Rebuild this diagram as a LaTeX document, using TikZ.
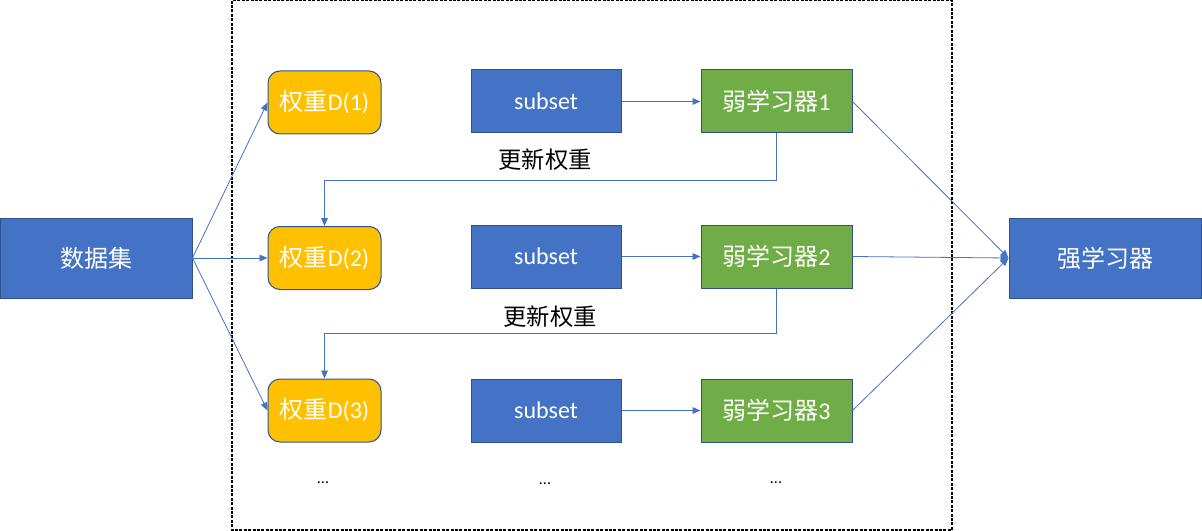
\documentclass[tikz,border=0pt]{standalone}
\usepackage{fontspec}
\setmainfont{Carlito}
\newfontfamily\cjk{Noto Sans CJK SC}
\usetikzlibrary{arrows.meta}
\definecolor{cblue}{HTML}{4472C4}
\definecolor{cedge}{HTML}{2F528F}
\definecolor{corange}{HTML}{FFC000}
\definecolor{cgreen}{HTML}{70AD47}
\tikzset{
  box/.style={draw=cedge, line width=0.75pt, text=white, inner sep=0pt, font=\fontsize{18}{21}\selectfont},
  bigbox/.style={box, fill=cblue, minimum width=144pt, minimum height=60pt},
  wbox/.style={box, fill=corange, rounded corners=9pt, minimum width=84.75pt, minimum height=47.25pt},
  sbox/.style={box, fill=cblue, minimum width=112.5pt, minimum height=47.25pt},
  lbox/.style={box, fill=cgreen, minimum width=113.25pt, minimum height=47.25pt},
  arr/.style={draw=cblue, line width=0.6pt, -{Triangle[length=6pt,width=5pt]}},
  lbl/.style={font=\fontsize{17.5}{20}\selectfont\cjk, text=black, inner sep=0pt},
  dots/.style={font=\fontsize{12}{14}\selectfont, inner sep=0pt}
}
\begin{document}
\begin{tikzpicture}[x=0.75pt,y=-0.75pt]
\useasboundingbox (0,0) rectangle (1202,531);
\draw[black, line width=0.9pt, dash pattern=on 2.2pt off 1.1pt] (232,0.6) rectangle (952,530);
\node[bigbox] (ds) at (96,258) {\cjk 数据集};
\node[bigbox] (st) at (1105,258) {\cjk 强学习器};
\node[wbox] (w1) at (324.5,102.5) {{\cjk 权重}D(1)};
\node[wbox] (w2) at (324.5,258) {{\cjk 权重}D(2)};
\node[wbox] (w3) at (324.5,410.5) {{\cjk 权重}D(3)};
\node[sbox] (s1) at (546,101.5) {subset};
\node[sbox] (s2) at (546,256.5) {subset};
\node[sbox] (s3) at (546,410.5) {subset};
\node[lbox] (l1) at (776.5,101.5) {{\cjk 弱学习器}1};
\node[lbox] (l2) at (776.5,256.5) {{\cjk 弱学习器}2};
\node[lbox] (l3) at (776.5,410.5) {{\cjk 弱学习器}3};
\node[lbl] (u1) at (545,160) {更新权重};
\node[lbl] (u2) at (550,317) {更新权重};
\node[dots] (d1) at (323,483) {...};
\node[dots] (d2) at (545,484) {...};
\node[dots] (d3) at (776,483) {...};
\coordinate (f1) at (0,180);
\coordinate (f2) at (0,333);
\draw[arr] (ds.east) -- (w1.west);
\draw[arr] (ds.east) -- (w2.west);
\draw[arr] (ds.east) -- (w3.west);
\draw[arr] (s1.east) -- (l1.west);
\draw[arr] (s2.east) -- (l2.west);
\draw[arr] (s3.east) -- (l3.west);
\draw[arr] (l1.east) -- (st.west);
\draw[arr] (l2.east) -- (st.west);
\draw[arr] (l3.east) -- (st.west);
\draw[arr] (l1.south) -- (l1.south |- f1) -| (w2.north);
\draw[arr] (l2.south) -- (l2.south |- f2) -| (w3.north);
\end{tikzpicture}
\end{document}
